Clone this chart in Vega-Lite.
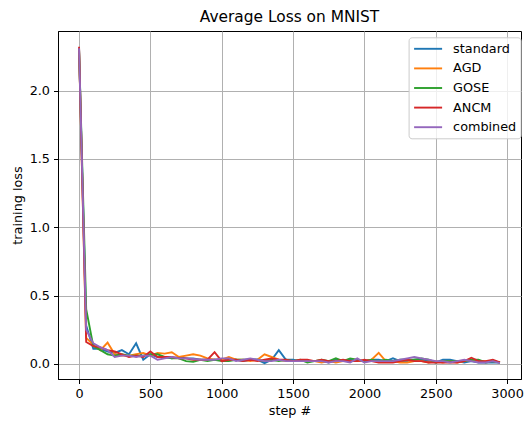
{
  "$schema": "https://vega.github.io/schema/vega-lite/v6.json",
  "width": 463,
  "height": 348,
  "autosize": {"type": "none"},
  "padding": {"left": 58, "top": 31, "right": 8, "bottom": 42},
  "background": "white",
  "title": {"text": "Average Loss on MNIST", "fontSize": 15.4, "fontWeight": "normal", "font": "DejaVu Sans", "color": "black", "offset": 5.5},
  "config": {
    "font": "DejaVu Sans",
    "view": {"stroke": "black", "strokeWidth": 1},
    "axis": {
      "labelFont": "DejaVu Sans", "labelFontSize": 12.8, "labelColor": "black",
      "titleFont": "DejaVu Sans", "titleFontSize": 12.8, "titleFontWeight": "normal", "titleColor": "black",
      "domainColor": "black", "tickColor": "black", "tickSize": 4.5, "labelPadding": 4,
      "gridColor": "#b0b0b0", "gridWidth": 1, "gridOpacity": 1
    }
  },
  "data": {"values": [
    {"step": 0, "standard": 2.31, "AGD": 2.30, "GOSE": 2.30, "ANCM": 2.32, "combined": 2.31},
    {"step": 50, "standard": 0.28, "AGD": 0.19, "GOSE": 0.40, "ANCM": 0.16, "combined": 0.25},
    {"step": 100, "standard": 0.11, "AGD": 0.14, "GOSE": 0.13, "ANCM": 0.13, "combined": 0.15},
    {"step": 150, "standard": 0.11, "AGD": 0.10, "GOSE": 0.10, "ANCM": 0.12, "combined": 0.12},
    {"step": 200, "standard": 0.09, "AGD": 0.155, "GOSE": 0.07, "ANCM": 0.10, "combined": 0.10},
    {"step": 250, "standard": 0.08, "AGD": 0.07, "GOSE": 0.06, "ANCM": 0.09, "combined": 0.05},
    {"step": 300, "standard": 0.10, "AGD": 0.06, "GOSE": 0.07, "ANCM": 0.07, "combined": 0.06},
    {"step": 350, "standard": 0.07, "AGD": 0.06, "GOSE": 0.06, "ANCM": 0.05, "combined": 0.06},
    {"step": 400, "standard": 0.15, "AGD": 0.07, "GOSE": 0.06, "ANCM": 0.06, "combined": 0.05},
    {"step": 450, "standard": 0.03, "AGD": 0.08, "GOSE": 0.06, "ANCM": 0.05, "combined": 0.06},
    {"step": 500, "standard": 0.07, "AGD": 0.06, "GOSE": 0.07, "ANCM": 0.09, "combined": 0.06},
    {"step": 550, "standard": 0.05, "AGD": 0.08, "GOSE": 0.07, "ANCM": 0.05, "combined": 0.03},
    {"step": 600, "standard": 0.05, "AGD": 0.075, "GOSE": 0.05, "ANCM": 0.05, "combined": 0.04},
    {"step": 650, "standard": 0.04, "AGD": 0.085, "GOSE": 0.04, "ANCM": 0.05, "combined": 0.05},
    {"step": 700, "standard": 0.05, "AGD": 0.05, "GOSE": 0.04, "ANCM": 0.04, "combined": 0.04},
    {"step": 750, "standard": 0.04, "AGD": 0.06, "GOSE": 0.02, "ANCM": 0.04, "combined": 0.04},
    {"step": 800, "standard": 0.04, "AGD": 0.07, "GOSE": 0.015, "ANCM": 0.03, "combined": 0.035},
    {"step": 850, "standard": 0.03, "AGD": 0.06, "GOSE": 0.03, "ANCM": 0.03, "combined": 0.03},
    {"step": 900, "standard": 0.03, "AGD": 0.04, "GOSE": 0.02, "ANCM": 0.03, "combined": 0.03},
    {"step": 950, "standard": 0.03, "AGD": 0.03, "GOSE": 0.03, "ANCM": 0.085, "combined": 0.03},
    {"step": 1000, "standard": 0.03, "AGD": 0.03, "GOSE": 0.02, "ANCM": 0.02, "combined": 0.04},
    {"step": 1050, "standard": 0.04, "AGD": 0.05, "GOSE": 0.02, "ANCM": 0.03, "combined": 0.04},
    {"step": 1100, "standard": 0.03, "AGD": 0.03, "GOSE": 0.03, "ANCM": 0.03, "combined": 0.02},
    {"step": 1150, "standard": 0.02, "AGD": 0.03, "GOSE": 0.03, "ANCM": 0.02, "combined": 0.03},
    {"step": 1200, "standard": 0.03, "AGD": 0.02, "GOSE": 0.03, "ANCM": 0.03, "combined": 0.04},
    {"step": 1250, "standard": 0.03, "AGD": 0.03, "GOSE": 0.03, "ANCM": 0.02, "combined": 0.03},
    {"step": 1300, "standard": 0.005, "AGD": 0.07, "GOSE": 0.02, "ANCM": 0.03, "combined": 0.02},
    {"step": 1350, "standard": 0.03, "AGD": 0.05, "GOSE": 0.03, "ANCM": 0.04, "combined": 0.02},
    {"step": 1400, "standard": 0.10, "AGD": 0.03, "GOSE": 0.02, "ANCM": 0.03, "combined": 0.03},
    {"step": 1450, "standard": 0.03, "AGD": 0.02, "GOSE": 0.03, "ANCM": 0.03, "combined": 0.02},
    {"step": 1500, "standard": 0.03, "AGD": 0.02, "GOSE": 0.02, "ANCM": 0.02, "combined": 0.02},
    {"step": 1550, "standard": 0.02, "AGD": 0.02, "GOSE": 0.03, "ANCM": 0.03, "combined": 0.02},
    {"step": 1600, "standard": 0.02, "AGD": 0.02, "GOSE": 0.01, "ANCM": 0.03, "combined": 0.02},
    {"step": 1650, "standard": 0.02, "AGD": 0.02, "GOSE": 0.02, "ANCM": 0.02, "combined": 0.02},
    {"step": 1700, "standard": 0.02, "AGD": 0.01, "GOSE": 0.03, "ANCM": 0.03, "combined": 0.02},
    {"step": 1750, "standard": 0.01, "AGD": 0.02, "GOSE": 0.02, "ANCM": 0.02, "combined": 0.01},
    {"step": 1800, "standard": 0.03, "AGD": 0.01, "GOSE": 0.04, "ANCM": 0.02, "combined": 0.02},
    {"step": 1850, "standard": 0.02, "AGD": 0.02, "GOSE": 0.02, "ANCM": 0.03, "combined": 0.02},
    {"step": 1900, "standard": 0.03, "AGD": 0.02, "GOSE": 0.04, "ANCM": 0.02, "combined": 0.01},
    {"step": 1950, "standard": 0.02, "AGD": 0.02, "GOSE": 0.03, "ANCM": 0.02, "combined": 0.04},
    {"step": 2000, "standard": 0.02, "AGD": 0.02, "GOSE": 0.02, "ANCM": 0.03, "combined": 0.01},
    {"step": 2050, "standard": 0.03, "AGD": 0.03, "GOSE": 0.03, "ANCM": 0.02, "combined": 0.02},
    {"step": 2100, "standard": 0.03, "AGD": 0.08, "GOSE": 0.02, "ANCM": 0.01, "combined": 0.02},
    {"step": 2150, "standard": 0.02, "AGD": 0.02, "GOSE": 0.03, "ANCM": 0.01, "combined": 0.02},
    {"step": 2200, "standard": 0.04, "AGD": 0.02, "GOSE": 0.02, "ANCM": 0.01, "combined": 0.02},
    {"step": 2250, "standard": 0.02, "AGD": 0.01, "GOSE": 0.03, "ANCM": 0.02, "combined": 0.03},
    {"step": 2300, "standard": 0.02, "AGD": 0.01, "GOSE": 0.03, "ANCM": 0.03, "combined": 0.04},
    {"step": 2350, "standard": 0.03, "AGD": 0.02, "GOSE": 0.03, "ANCM": 0.02, "combined": 0.05},
    {"step": 2400, "standard": 0.03, "AGD": 0.02, "GOSE": 0.04, "ANCM": 0.02, "combined": 0.04},
    {"step": 2450, "standard": 0.02, "AGD": 0.01, "GOSE": 0.03, "ANCM": 0.01, "combined": 0.03},
    {"step": 2500, "standard": 0.01, "AGD": 0.02, "GOSE": 0.01, "ANCM": 0.01, "combined": 0.02},
    {"step": 2550, "standard": 0.03, "AGD": 0.01, "GOSE": 0.02, "ANCM": 0.01, "combined": 0.02},
    {"step": 2600, "standard": 0.03, "AGD": 0.02, "GOSE": 0.02, "ANCM": 0.01, "combined": 0.01},
    {"step": 2650, "standard": 0.02, "AGD": 0.01, "GOSE": 0.02, "ANCM": 0.01, "combined": 0.02},
    {"step": 2700, "standard": 0.01, "AGD": 0.02, "GOSE": 0.02, "ANCM": 0.02, "combined": 0.03},
    {"step": 2750, "standard": 0.02, "AGD": 0.03, "GOSE": 0.03, "ANCM": 0.045, "combined": 0.02},
    {"step": 2800, "standard": 0.01, "AGD": 0.02, "GOSE": 0.03, "ANCM": 0.02, "combined": 0.01},
    {"step": 2850, "standard": 0.01, "AGD": 0.02, "GOSE": 0.01, "ANCM": 0.02, "combined": 0.01},
    {"step": 2900, "standard": 0.01, "AGD": 0.02, "GOSE": 0.02, "ANCM": 0.03, "combined": 0.02},
    {"step": 2950, "standard": 0.01, "AGD": 0.01, "GOSE": 0.01, "ANCM": 0.01, "combined": 0.005}
  ]},
  "transform": [
    {"fold": ["standard", "AGD", "GOSE", "ANCM", "combined"], "as": ["series", "loss"]}
  ],
  "mark": {"type": "line", "strokeWidth": 1.9, "clip": true},
  "encoding": {
    "x": {
      "field": "step", "type": "quantitative",
      "scale": {"domain": [-147.5, 3097.5], "nice": false, "zero": false},
      "axis": {"title": "step #", "values": [0, 500, 1000, 1500, 2000, 2500, 3000], "format": "d", "titlePadding": 4}
    },
    "y": {
      "field": "loss", "type": "quantitative",
      "scale": {"domain": [-0.111, 2.436], "nice": false, "zero": false},
      "axis": {"title": "training loss", "values": [0, 0.5, 1, 1.5, 2], "format": ".1f", "titlePadding": 5}
    },
    "color": {
      "field": "series", "type": "nominal",
      "scale": {"domain": ["standard", "AGD", "GOSE", "ANCM", "combined"], "range": ["#1f77b4", "#ff7f0e", "#2ca02c", "#d62728", "#9467bd"]},
      "legend": {
        "title": null, "orient": "none", "legendX": 350.6, "legendY": 6.3,
        "symbolType": "M-2,0H2", "symbolSize": 196, "symbolStrokeWidth": 1.9, "symbolFillColor": "transparent", "symbolOffset": 8,
        "labelFontSize": 12.8, "labelFont": "DejaVu Sans", "labelColor": "black", "labelOffset": 17,
        "strokeColor": "#cccccc", "fillColor": "rgba(255,255,255,0.8)", "cornerRadius": 3, "padding": 3.5,
        "rowPadding": 4.6
      }
    }
  }
}
